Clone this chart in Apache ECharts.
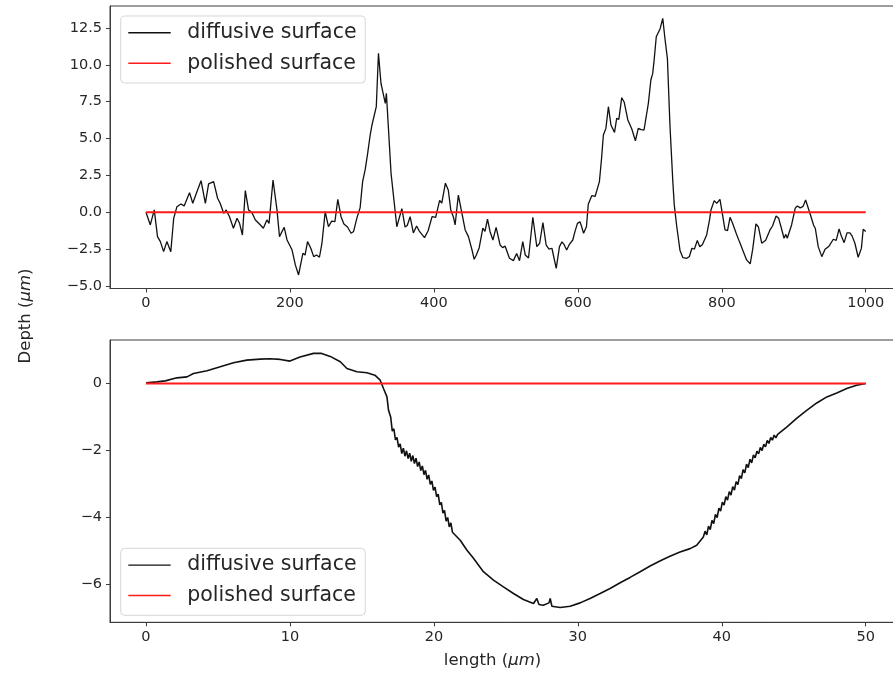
<!DOCTYPE html>
<html>
<head>
<meta charset="utf-8">
<script src="https://cdn.jsdelivr.net/npm/echarts@6/dist/echarts.min.js"></script>
<style>
  html, body { margin: 0; padding: 0; background: #fff; overflow: hidden; width: 893px; height: 674px; }
  /* the plotting canvas runs a little past the right edge of the page */
  #chart { width: 912px; height: 674px; }
</style>
</head>
<body>
<div id="chart"></div>
<script>
// Surface profile over a 1000 µm scan (upper panel)
const profileX = [0, 6, 11.5, 16, 20, 24.5, 29, 34.5, 38.5, 43, 48.5, 53, 60.5, 65, 70, 76.5, 82.5, 87, 94, 99.5,
  103, 108, 111.5, 116, 121.5, 126.5, 130, 134, 138, 142.5, 147, 152, 159, 163, 168, 171, 176.5, 182, 185.5, 192,
  196, 203, 207.5, 212, 218, 221, 224.5, 229, 233, 237, 241, 244.5, 249, 253.5, 258, 262.5, 266.5, 271, 275, 280,
  285, 288.5, 293, 297.5, 301, 304.5, 308, 311.5, 314, 316.5, 320, 323, 326.5, 330, 332.5, 334, 337, 340.5, 344, 348.5,
  351, 355.5, 360, 363, 367, 371.5, 376, 380, 387, 392, 397.5, 402.5, 408, 411, 416, 420, 423.5, 427, 429.5, 434,
  439, 443.5, 448, 453, 456, 459, 463, 468, 471, 474.5, 478, 482, 486.5, 492, 495.5, 499, 505, 510.5, 515, 519,
  523.5, 527, 531.5, 537.5, 543, 547, 551.5, 556, 560, 564, 570, 574.5, 578, 581, 584.5, 588, 593, 596, 599.5, 603,
  605, 608, 612, 614.5, 619.5, 622, 624, 630, 633, 635.5, 639, 642.5, 646, 651, 654, 657, 661, 664.5, 669.5, 675,
  680, 684, 688, 692, 695, 698, 701.5, 704, 706, 709, 714.5, 718, 721, 724.5, 728, 732, 734, 737.5, 742, 746,
  751.5, 755, 758.5, 762, 766, 769.5, 773, 779, 783, 785, 789.5, 793, 797.5, 801.5, 804.5, 808, 811.5, 815, 820, 824.5,
  830, 834.5, 839.5, 843, 847.5, 851, 855.5, 861, 867, 870.5, 875.5, 879, 883.5, 886.5, 889, 891, 897, 902, 905, 909,
  913, 916.5, 922.5, 927.5, 930, 934, 939, 943.5, 949, 955, 959, 963, 966, 970, 974, 978, 981, 985, 989.5, 994,
  996.5, 1000];
const profileDepth = [0.0, -0.86, 0.16, -1.65, -1.99, -2.67, -1.99, -2.67, -0.41, 0.38, 0.56, 0.43, 1.33, 0.61, 1.29, 2.14, 0.61, 1.92, 2.08, 0.95,
  0.61, -0.07, 0.16, -0.3, -1.08, -0.41, -0.75, -1.54, 1.47, 0.16, 0.0, -0.52, -0.86, -1.08, -0.52, -0.75, 2.19, 0.16, -1.65, -1.02,
  -1.88, -2.56, -3.57, -4.25, -2.78, -2.9, -1.99, -2.44, -3.01, -2.9, -3.05, -2.1, 0.04, -0.98, -0.6, -0.64, 0.88, -0.3, -0.8, -1.0,
  -1.42, -1.3, -0.4, 0.3, 2.08, 2.87, 4.0, 5.24, 5.92, 6.0, 7.16, 10.78, 8.75, 7.95, 7.39, 8.07, 5.58, 2.64, 1.06, -0.98,
  -1.1, 0.25, -1.0, -0.9, -0.3, -1.4, -0.93, -1.3, -1.72, -1.25, -0.3, -0.35, 0.8, 0.62, 1.97, 1.51, 0.16, -0.3, -0.86, 1.17,
  -0.07, -1.2, -1.65, -2.56, -3.19, -2.9, -2.4, -1.08, -1.3, -0.47, -1.3, -1.88, -1.02, -2.22, -2.4, -2.3, -3.12, -3.28, -2.8, -3.28,
  -1.99, -2.9, -3.1, -0.34, -2.33, -2.1, -0.7, -2.22, -2.5, -2.44, -3.8, -2.33, -2.0, -2.2, -2.56, -2.2, -1.88, -1.31, -0.75, -0.64,
  -0.93, -1.42, -0.98, 0.54, 1.13, 1.2, 1.07, 2.08, 3.66, 5.24, 5.69, 7.16, 5.92, 5.42, 6.37, 6.3, 7.77, 7.46, 6.26, 5.65,
  4.85, 5.69, 5.6, 5.58, 6.48, 7.39, 8.97, 9.4, 10.3, 11.9, 12.47, 13.15, 11.8, 10.4, 5.9, 2.08, 0.5, -0.98, -2.6, -3.08,
  -3.12, -3.0, -2.44, -2.5, -1.92, -2.33, -2.2, -1.54, -0.52, 0.16, 0.79, 0.6, 0.88, -0.3, -1.2, -1.25, -0.34, -0.75, -1.42, -1.99,
  -2.67, -3.23, -3.5, -2.5, -0.79, -1.0, -2.1, -1.9, -1.2, -0.93, -0.25, -0.4, -1.2, -1.76, -1.5, -1.76, -0.86, 0.27, 0.43, 0.3,
  0.4, 0.83, -0.07, -0.86, -1.1, -2.33, -3.01, -2.51, -2.3, -1.83, -1.9, -1.13, -1.6, -2.06, -1.4, -1.4, -1.6, -2.1, -3.05, -2.45,
  -1.15, -1.3];
const polishedLongX = [0, 1000];
const polishedLongDepth = [0, 0];

// Surface profile over a 50 µm scan (lower panel); the steep walls carry a fine ripple
const craterX = [0, 0.76, 1.34, 2.15, 2.85, 3.3, 4.24, 5.16, 6.08, 7.0, 7.94, 8.6, 9.33, 10.0, 10.7, 11.64, 12.2, 12.8, 13.5, 13.96,
  14.65, 15.35, 15.9, 16.27, 16.5, 16.74, 16.85,
  17.0, 17.11, 17.22, 17.33, 17.44, 17.55, 17.66, 17.77, 17.88, 17.99, 18.10, 18.21, 18.32, 18.43, 18.54, 18.65, 18.76, 18.87,
  18.98, 19.09, 19.20, 19.31, 19.42, 19.53, 19.64, 19.75, 19.86, 19.97, 20.08, 20.19, 20.30, 20.41, 20.52, 20.63, 20.74, 20.85,
  20.96, 21.07, 21.18, 21.29, 21.40,
  21.83, 22.3, 22.75, 23.44, 24.14, 24.83, 25.53, 26.22, 26.92, 27.15, 27.3, 27.6, 28.0, 28.08, 28.2, 28.77, 29.47, 30.16, 30.85,
  31.55, 32.24, 32.94, 33.63, 34.33, 35.02, 35.7, 36.4, 37.1, 37.8, 38.26, 38.72,
  38.84, 38.96, 39.08, 39.20, 39.32, 39.44, 39.56, 39.68, 39.80, 39.92, 40.04, 40.16, 40.28, 40.40, 40.52, 40.64, 40.76, 40.88,
  41.00, 41.12, 41.24, 41.36, 41.48, 41.60, 41.72, 41.84, 41.96, 42.08, 42.20, 42.32, 42.44, 42.56, 42.68, 42.80, 42.92, 43.04,
  43.16, 43.28, 43.40, 43.52, 43.64, 43.76, 43.88,
  44.51, 45.2, 45.9, 46.6, 47.3, 47.99, 48.68, 49.37, 50];
const craterDepth = [0.02, 0.05, 0.08, 0.17, 0.2, 0.3, 0.38, 0.5, 0.62, 0.7, 0.73, 0.74, 0.72, 0.67, 0.79, 0.9, 0.9, 0.81, 0.65, 0.45,
  0.35, 0.32, 0.25, 0.1, -0.15, -0.4, -0.8,
  -1.0, -1.42, -1.35, -1.68, -1.61, -1.90, -1.80, -2.09, -1.93, -2.17, -2.01, -2.24, -2.08, -2.32, -2.15, -2.39, -2.23, -2.48,
  -2.34, -2.60, -2.46, -2.72, -2.59, -2.86, -2.73, -3.01, -2.91, -3.19, -3.09, -3.38, -3.30, -3.62, -3.55, -3.87, -3.79, -4.11,
  -4.0, -4.28, -4.16, -4.44, -4.41,
  -4.68, -4.98, -5.22, -5.62, -5.87, -6.07, -6.27, -6.45, -6.57, -6.42, -6.6, -6.62, -6.55, -6.42, -6.65, -6.69, -6.65, -6.55, -6.42,
  -6.27, -6.12, -5.95, -5.79, -5.62, -5.45, -5.3, -5.16, -5.03, -4.93, -4.83, -4.58,
  -4.41, -4.52, -4.26, -4.36, -4.09, -4.18, -3.91, -4.0, -3.72, -3.81, -3.54, -3.63, -3.38, -3.48, -3.23, -3.33, -3.08, -3.18,
  -2.93, -3.02, -2.75, -2.84, -2.57, -2.67, -2.41, -2.51, -2.26, -2.37, -2.13, -2.22, -2.02, -2.10, -1.91, -2.0, -1.81, -1.89,
  -1.70, -1.79, -1.61, -1.69, -1.54, -1.62, -1.52,
  -1.3, -1.04, -0.8, -0.58, -0.4, -0.28, -0.15, -0.05, 0.0];
const polishedShortX = [0, 50];
const polishedShortDepth = [0, 0];

// Tick positions
const longTicksX = [0, 200, 400, 600, 800, 1000];
const longTicksY = [-5, -2.5, 0, 2.5, 5, 7.5, 10, 12.5];
const shortTicksX = [0, 10, 20, 30, 40, 50];
const shortTicksY = [-6, -4, -2, 0];

const seriesNames = ['diffusive surface', 'polished surface'];

const pairs = (xs, ys) => xs.map((x, i) => [x, ys[i]]);
const minus = s => String(s).replace('-', '\u2212');

const FONT = 'DejaVu Sans';
const TEXT = '#262626';
const FRAME = '#3c3c3c';

function valueAxis(gridIndex, min, max, ticks, fmt, isX) {
  return {
    type: 'value', gridIndex, min, max,
    splitLine: { show: false },
    axisLine: { show: true, onZero: false, lineStyle: { color: FRAME, width: 1 } },
    axisTick: { show: true, length: 4, customValues: ticks, lineStyle: { color: FRAME, width: 1 } },
    axisLabel: {
      show: true, customValues: ticks, formatter: v => minus(fmt(v)),
      fontFamily: FONT, fontSize: 14.5, color: TEXT, margin: isX ? 7 : 8
    }
  };
}

function legendAt(top) {
  return {
    data: seriesNames,
    orient: 'vertical',
    left: 120.7, top: top,
    icon: 'rect', itemWidth: 42.4, itemHeight: 1.4,
    itemGap: 9.4,
    padding: [6.3, 8.7, 9.3, 7.6],
    backgroundColor: 'rgba(255,255,255,0.85)',
    borderColor: '#d6d6d6', borderWidth: 1, borderRadius: 4,
    selectedMode: false,
    textStyle: { fontFamily: FONT, fontSize: 20.5, color: TEXT, lineHeight: 20, padding: [0, 0, 0, 11.6] }
  };
}

const chart = echarts.init(document.getElementById('chart'), null, { renderer: 'canvas' });
chart.setOption({
  animation: false,
  backgroundColor: '#fff',
  grid: [
    { left: 110, top: 6, width: 791.7, height: 282.5, show: true, borderColor: FRAME, borderWidth: 1, backgroundColor: 'transparent' },
    { left: 110, top: 340, width: 791.7, height: 282.3, show: true, borderColor: FRAME, borderWidth: 1, backgroundColor: 'transparent' }
  ],
  xAxis: [
    valueAxis(0, -50, 1050, longTicksX, v => v.toFixed(0), true),
    valueAxis(1, -2.5, 52.5, shortTicksX, v => v.toFixed(0), true)
  ],
  yAxis: [
    valueAxis(0, -5.17, 13.99, longTicksY, v => v.toFixed(1), false),
    valueAxis(1, -7.13, 1.30, shortTicksY, v => v.toFixed(0), false)
  ],
  legend: [legendAt(16), legendAt(548.3)],
  graphic: [
    {
      type: 'text', x: 25.5, y: 316, rotation: Math.PI / 2,
      style: {
        text: 'Depth ({i|μm})', fontFamily: FONT, fontSize: 16.5, fill: TEXT,
        align: 'center', verticalAlign: 'middle',
        rich: { i: { fontFamily: FONT, fontSize: 16.5, fontStyle: 'italic', fill: TEXT } }
      }
    },
    {
      type: 'text', x: 492.5, y: 661,
      style: {
        text: 'length ({i|μm})', fontFamily: FONT, fontSize: 16.5, fill: TEXT,
        align: 'center', verticalAlign: 'middle',
        rich: { i: { fontFamily: FONT, fontSize: 16.5, fontStyle: 'italic', fill: TEXT } }
      }
    }
  ],
  series: [
    {
      name: seriesNames[0], type: 'line', xAxisIndex: 0, yAxisIndex: 0,
      data: pairs(profileX, profileDepth), showSymbol: false, symbol: 'none',
      lineStyle: { color: '#111', width: 1.3 }, itemStyle: { color: '#111' }, z: 2
    },
    {
      name: seriesNames[1], type: 'line', xAxisIndex: 0, yAxisIndex: 0,
      data: pairs(polishedLongX, polishedLongDepth), showSymbol: false, symbol: 'none',
      lineStyle: { color: '#ff1a1a', width: 2 }, itemStyle: { color: '#ff1a1a' }, z: 3
    },
    {
      name: seriesNames[0], type: 'line', xAxisIndex: 1, yAxisIndex: 1,
      data: pairs(craterX, craterDepth), showSymbol: false, symbol: 'none',
      lineStyle: { color: '#111', width: 1.6 }, itemStyle: { color: '#111' }, z: 2
    },
    {
      name: seriesNames[1], type: 'line', xAxisIndex: 1, yAxisIndex: 1,
      data: pairs(polishedShortX, polishedShortDepth), showSymbol: false, symbol: 'none',
      lineStyle: { color: '#ff1a1a', width: 2 }, itemStyle: { color: '#ff1a1a' }, z: 3
    }
  ]
});
</script>
</body>
</html>
